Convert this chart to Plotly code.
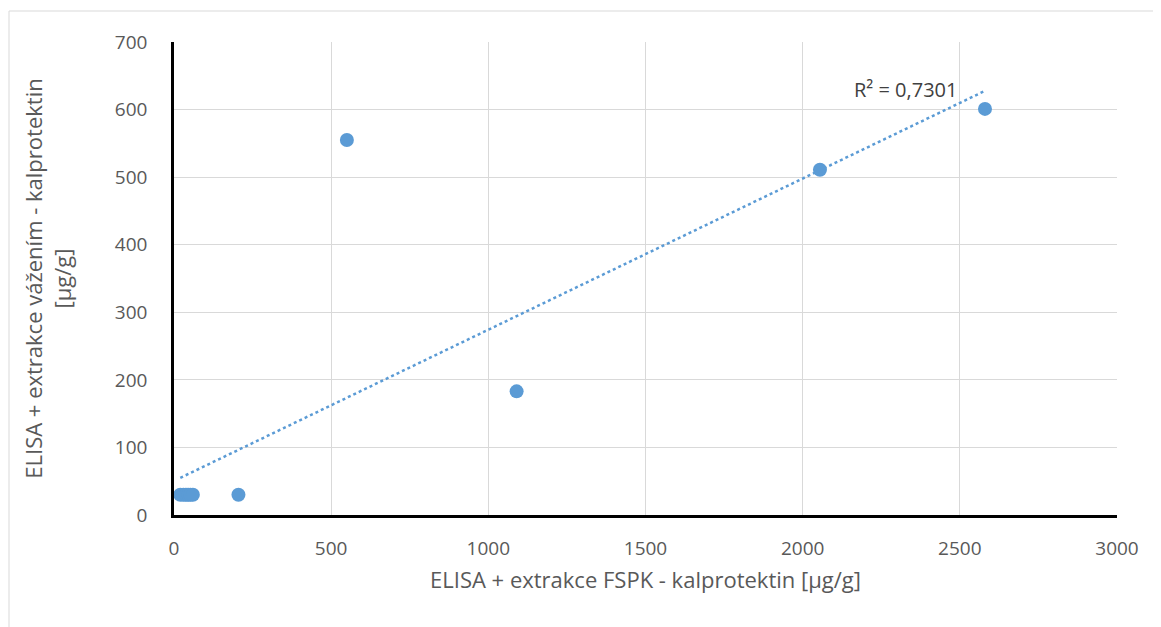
import numpy as np
import plotly.graph_objects as go

# Data
x_fspk = [20, 30, 38, 45, 52, 60, 205, 550, 1090, 2055, 2580]
y_vazeni = [30, 30, 30, 30, 30, 30, 30, 555, 183, 511, 601]
r2_label = "R² = 0,7301"

x_ticks = [0, 500, 1000, 1500, 2000, 2500, 3000]
y_ticks = [0, 100, 200, 300, 400, 500, 600, 700]

blue = "#5b9bd5"
font_family = "Open Sans, Noto Sans, sans-serif"

# Linear trendline (least squares) over the data range
coef = np.polyfit(x_fspk, y_vazeni, 1)
tx = np.array([min(x_fspk), max(x_fspk)])
ty = np.polyval(coef, tx)

fig = go.Figure()
fig.add_trace(go.Scatter(
    x=tx, y=ty, mode="lines",
    line=dict(color=blue, width=2.5, dash="dot"),
    hoverinfo="skip", showlegend=False))
fig.add_trace(go.Scatter(
    x=x_fspk, y=y_vazeni, mode="markers",
    marker=dict(color=blue, size=14),
    showlegend=False))

fig.add_annotation(x=2326, y=630, text=r2_label, showarrow=False,
                   font=dict(size=20, color="#404040", family=font_family),
                   xanchor="center", yanchor="middle")

# Outer chart border (light gray)
fig.add_shape(type="rect", xref="paper", yref="paper",
              x0=(8 - 173) / 943, x1=1.2, y0=-0.4, y1=(514 - 10) / 473,
              line=dict(color="#d9d9d9", width=1), layer="below")

fig.update_layout(
    width=1161, height=627,
    margin=dict(l=166, r=52, t=34, b=120),
    plot_bgcolor="white", paper_bgcolor="white",
    font=dict(family=font_family, size=19, color="#595959"),
    xaxis=dict(range=[0, 3000], tickvals=x_ticks, showgrid=True,
               gridcolor="#d9d9d9", gridwidth=1, zeroline=False,
               showline=True, linecolor="black", linewidth=2.5,
               ticks="", ticklabelstandoff=14,
               tickfont=dict(size=19, color="#595959"),
               title=dict(text="ELISA + extrakce FSPK - kalprotektin [µg/g]",
                          font=dict(size=22, color="#595959"), standoff=14)),
    yaxis=dict(range=[0, 700], tickvals=y_ticks, showgrid=True,
               gridcolor="#d9d9d9", gridwidth=1, zeroline=False,
               showline=True, linecolor="black", linewidth=2.5,
               ticks="", ticklabelstandoff=20,
               tickfont=dict(size=19, color="#595959"),
               title=dict(text="ELISA + extrakce vážením - kalprotektin<br>[µg/g]",
                          font=dict(size=22, color="#595959"), standoff=38)),
)

fig.write_html("out.html")
